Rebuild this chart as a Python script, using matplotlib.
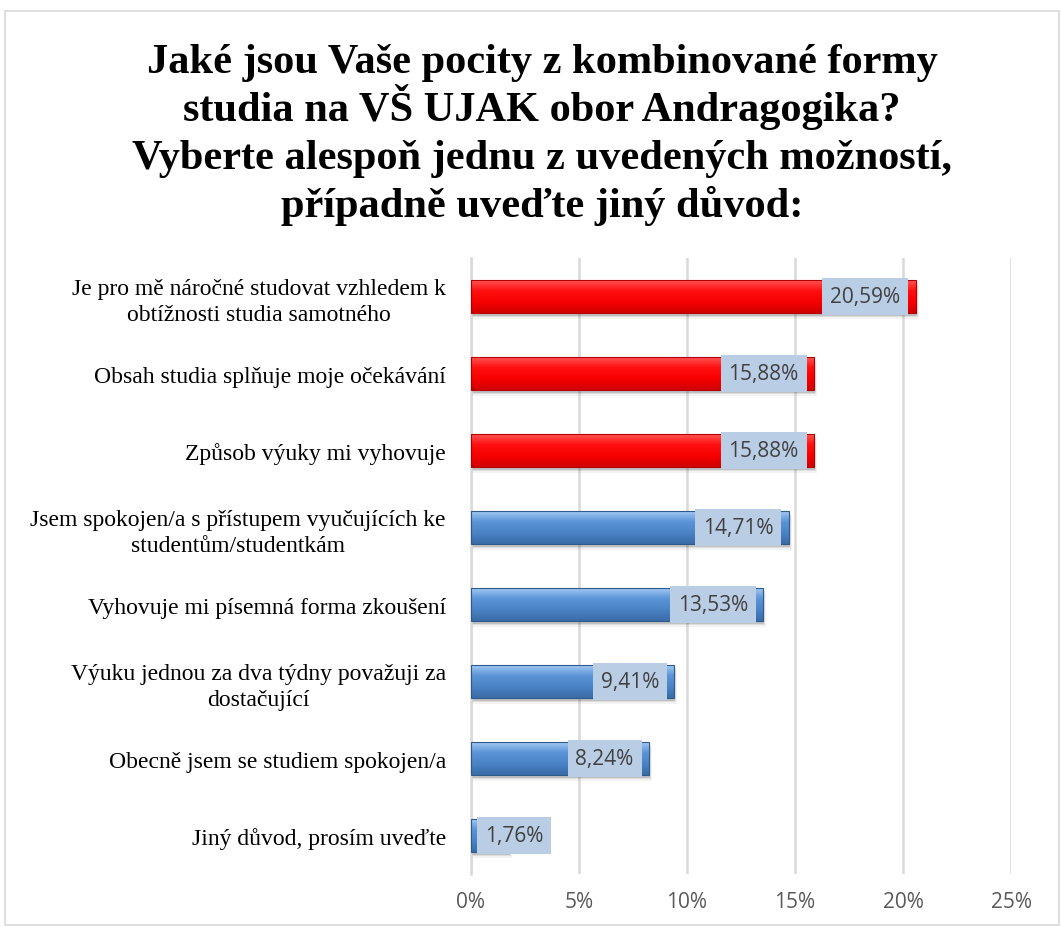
import numpy as np
import matplotlib
matplotlib.use("Agg")
import matplotlib.pyplot as plt
from matplotlib.colors import LinearSegmentedColormap

# Daten (von oben nach unten)
categories = [
    "Je pro mě náročné studovat vzhledem k\nobtížnosti studia samotného",
    "Obsah studia splňuje moje očekávání",
    "Způsob výuky mi vyhovuje",
    "Jsem spokojen/a s přístupem vyučujících ke\nstudentům/studentkám",
    "Vyhovuje mi písemná forma zkoušení",
    "Výuku jednou za dva týdny považuji za\ndostačující",
    "Obecně jsem se studiem spokojen/a",
    "Jiný důvod, prosím uveďte",
]
values = [20.59, 15.88, 15.88, 14.71, 13.53, 9.41, 8.24, 1.76]
highlight = [True, True, True, False, False, False, False, False]
xticks = [0, 5, 10, 15, 20, 25]

title_lines = [
    "Jaké jsou Vaše pocity z kombinované formy",
    "studia na VŠ UJAK obor Andragogika?",
    "Vyberte alespoň jednu z uvedených možností,",
    "případně uveďte jiný důvod:",
]

red_cmap = LinearSegmentedColormap.from_list("r", ["#ff5a5a", "#ff1010", "#f80000", "#d00000"])
blue_cmap = LinearSegmentedColormap.from_list("b", ["#a9cdf5", "#5b95d8", "#4a83c6", "#3a6ca6"])

fig = plt.figure(figsize=(10.61, 9.28), dpi=100)
fig.patches.append(plt.Rectangle((0.005, 0.002), 0.993, 0.985, transform=fig.transFigure,
                                 fill=False, edgecolor="#d9d9d9", linewidth=1.2))
ax = fig.add_axes([0.4439, 0.0571, 0.5090, 0.6638])

y = np.arange(len(categories))
bar_h = 0.44
bars = ax.barh(y, values, height=bar_h, color="none", edgecolor="none", zorder=3)
ax.set_xlim(0, 25)
ax.set_ylim(len(categories) - 0.5, -0.5)

grad = np.linspace(0, 1, 64).reshape(-1, 1)
for b, v, hl in zip(bars, values, highlight):
    x0, y0 = b.get_x(), b.get_y()
    w, h = b.get_width(), b.get_height()
    cmap = red_cmap if hl else blue_cmap
    edge = "#b00000" if hl else "#2f5b8c"
    # weicher Schatten unter dem Balken
    for k, a in enumerate([0.18, 0.12, 0.06]):
        ax.add_patch(plt.Rectangle((x0, y0 + 0.03 + 0.02 * k), w + 0.05 * (k + 1), h,
                                   facecolor="#404040", alpha=a, edgecolor="none", zorder=2))
    im = ax.imshow(grad, cmap=cmap, aspect="auto", extent=(x0, x0 + w, y0 + h, y0),
                   zorder=3, interpolation="bilinear")
    clip = plt.Rectangle((x0, y0), w, h, transform=ax.transData, facecolor="none",
                         edgecolor="none")
    ax.add_patch(clip)
    im.set_clip_path(clip)
    ax.add_patch(plt.Rectangle((x0, y0), w, h, facecolor="none", edgecolor=edge,
                               linewidth=0.8, zorder=4))

ax.set_xlim(0, 25)
ax.set_ylim(len(categories) - 0.5, -0.5)

# Datenbeschriftungen
for yi, v in zip(y, values):
    label = f"{v:.2f}".replace(".", ",") + "%"
    box = dict(boxstyle="square,pad=0.38", facecolor="#b9cde5", edgecolor="none")
    if v > 5:
        ax.annotate(label, (v, yi), xytext=(-11, 0), textcoords="offset points",
                    ha="right", va="center", fontsize=15, color="#404040",
                    family="Open Sans", zorder=6, bbox=box)
    else:
        ax.annotate(label, (0, yi), xytext=(10, 0), textcoords="offset points",
                    ha="left", va="center", fontsize=15, color="#404040",
                    family="Open Sans", zorder=6, bbox=box)

ax.set_xticks(xticks)
ax.set_xticklabels([f"{t}%" for t in xticks], fontsize=15, color="#595959",
                   family="Open Sans")
ax.set_yticks(y)
ax.set_yticklabels(categories, fontsize=17, family="Liberation Serif",
                   multialignment="center", color="black", linespacing=1.3)
ax.tick_params(axis="both", length=0)
ax.tick_params(axis="x", pad=12)
ax.tick_params(axis="y", pad=18)
ax.grid(axis="x", color="#d9d9d9", linewidth=1.8, zorder=0)
ax.set_axisbelow(True)
for s in ["top", "right", "bottom"]:
    ax.spines[s].set_visible(False)
ax.spines["left"].set_color("#d9d9d9")
ax.spines["left"].set_linewidth(1.8)

# Titel zeilenweise (gleichmäßiger Zeilenabstand)
for i, line in enumerate(title_lines):
    fig.text(542 / 1061, 1 - (73 + 48 * i) / 928, line, ha="center", va="baseline",
             fontsize=30.5, fontweight="bold", family="Liberation Serif")

fig.savefig("out.png", dpi=100)
